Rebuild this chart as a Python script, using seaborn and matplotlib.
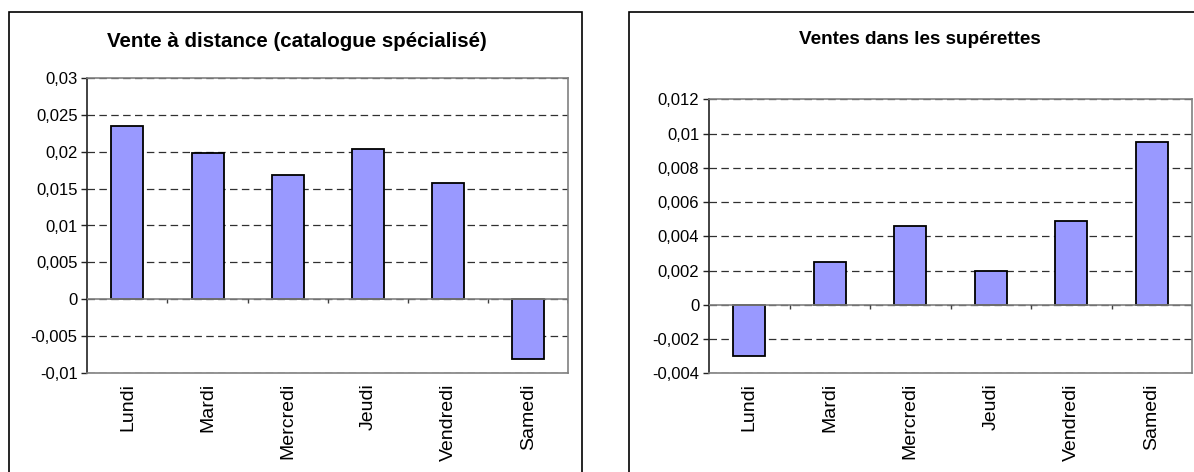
import numpy as np
import pandas as pd
import matplotlib
matplotlib.use("Agg")
import matplotlib.pyplot as plt
import matplotlib.ticker as mticker
from matplotlib.patches import Rectangle
import seaborn as sns

# Jours de la semaine et variations relatives des ventes
jours = ["Lundi", "Mardi", "Mercredi", "Jeudi", "Vendredi", "Samedi"]
vente_distance = [0.0235, 0.0198, 0.0168, 0.0204, 0.0157, -0.0080]
superettes = [-0.0030, 0.0025, 0.0046, 0.0020, 0.0049, 0.0095]

titre_distance = "Vente à distance (catalogue spécialisé)"
titre_superettes = "Ventes dans les supérettes"

ticks_distance = [-0.01, -0.005, 0, 0.005, 0.01, 0.015, 0.02, 0.025, 0.03]
ticks_superettes = [-0.004, -0.002, 0, 0.002, 0.004, 0.006, 0.008, 0.01, 0.012]

sns.set_theme(style="white")
plt.rcParams["font.family"] = ["Liberation Sans", "DejaVu Sans"]

W, H = 1194, 472
fig = plt.figure(figsize=(W / 100, H / 100), dpi=100)

BAR = "#9999FF"
FRAME = "#808080"


def fx(px):
    return px / W


def fy(py):
    return 1 - py / H


def virgule(v, pos):
    # French decimal comma
    return "0" if v == 0 else ("%g" % v).replace(".", ",")


def panel(rect, valeurs, ticks, titre, title_xy, title_size):
    ax = fig.add_axes(rect)
    df = pd.DataFrame({"jour": jours, "valeur": valeurs})
    sns.barplot(data=df, x="jour", y="valeur", order=jours, color=BAR,
                saturation=1, edgecolor="black", linewidth=1.3, width=0.4,
                ax=ax, zorder=3)
    ax.set_xlim(-0.5, len(jours) - 0.5)
    ax.set_ylim(ticks[0], ticks[-1])
    ax.set_yticks(ticks)
    ax.yaxis.set_major_formatter(mticker.FuncFormatter(virgule))
    ax.set_xlabel("")
    ax.set_ylabel("")
    ax.set_facecolor("white")

    # dashed horizontal grid
    ax.yaxis.grid(True, linestyle=(0, (6, 3.5)), color="#303030", linewidth=0.9, zorder=1)
    ax.xaxis.grid(False)

    for side in ("top", "right", "bottom"):
        ax.spines[side].set_color(FRAME)
        ax.spines[side].set_linewidth(1.2)
    ax.spines["left"].set_color("#222222")
    ax.spines["left"].set_linewidth(1.2)

    ax.tick_params(axis="y", which="major", left=True, length=4, width=1,
                   color="#222222", pad=3, labelsize=12, labelcolor="black")
    ax.tick_params(axis="x", which="major", bottom=False, length=0, pad=7,
                   labelsize=14, labelcolor="black", labelrotation=90)
    for lab in ax.get_xticklabels():
        lab.set_verticalalignment("top")
        lab.set_horizontalalignment("center")

    # category axis through zero with tick marks between categories
    ax.axhline(0, color=FRAME, linewidth=1.2, zorder=4)
    bornes = np.arange(len(jours) + 1) - 0.5
    ymin, ymax = ax.get_ylim()
    tick_len = (ymax - ymin) * 4 / (rect[3] * H)
    ax.vlines(bornes[1:], -tick_len, 0, colors="#404040", linewidth=1, zorder=4)

    fig.text(title_xy[0], title_xy[1], titre, ha="center", va="baseline",
             fontsize=title_size, fontweight="bold", color="black")
    return ax


panel([fx(87.3), fy(373.3), fx(568.3 - 87.3), (373.3 - 77.7) / H],
      vente_distance, ticks_distance, titre_distance,
      (fx(297), fy(46.7)), 14.8)

panel([fx(709), fy(373.3), fx(1192 - 709), (373.3 - 99.3) / H],
      superettes, ticks_superettes, titre_superettes,
      (fx(919.5), fy(44.5)), 13.6)

# chart area borders
fig.patches.append(Rectangle((fx(9.3), fy(480)), fx(581.7 - 9.3), (480 - 11.7) / H,
                             transform=fig.transFigure, fill=False,
                             edgecolor="black", linewidth=1.2))
fig.patches.append(Rectangle((fx(629.3), fy(480)), fx(1220 - 629.3), (480 - 11.7) / H,
                             transform=fig.transFigure, fill=False,
                             edgecolor="black", linewidth=1.2))

fig.savefig("out.png", dpi=100, facecolor="white")
